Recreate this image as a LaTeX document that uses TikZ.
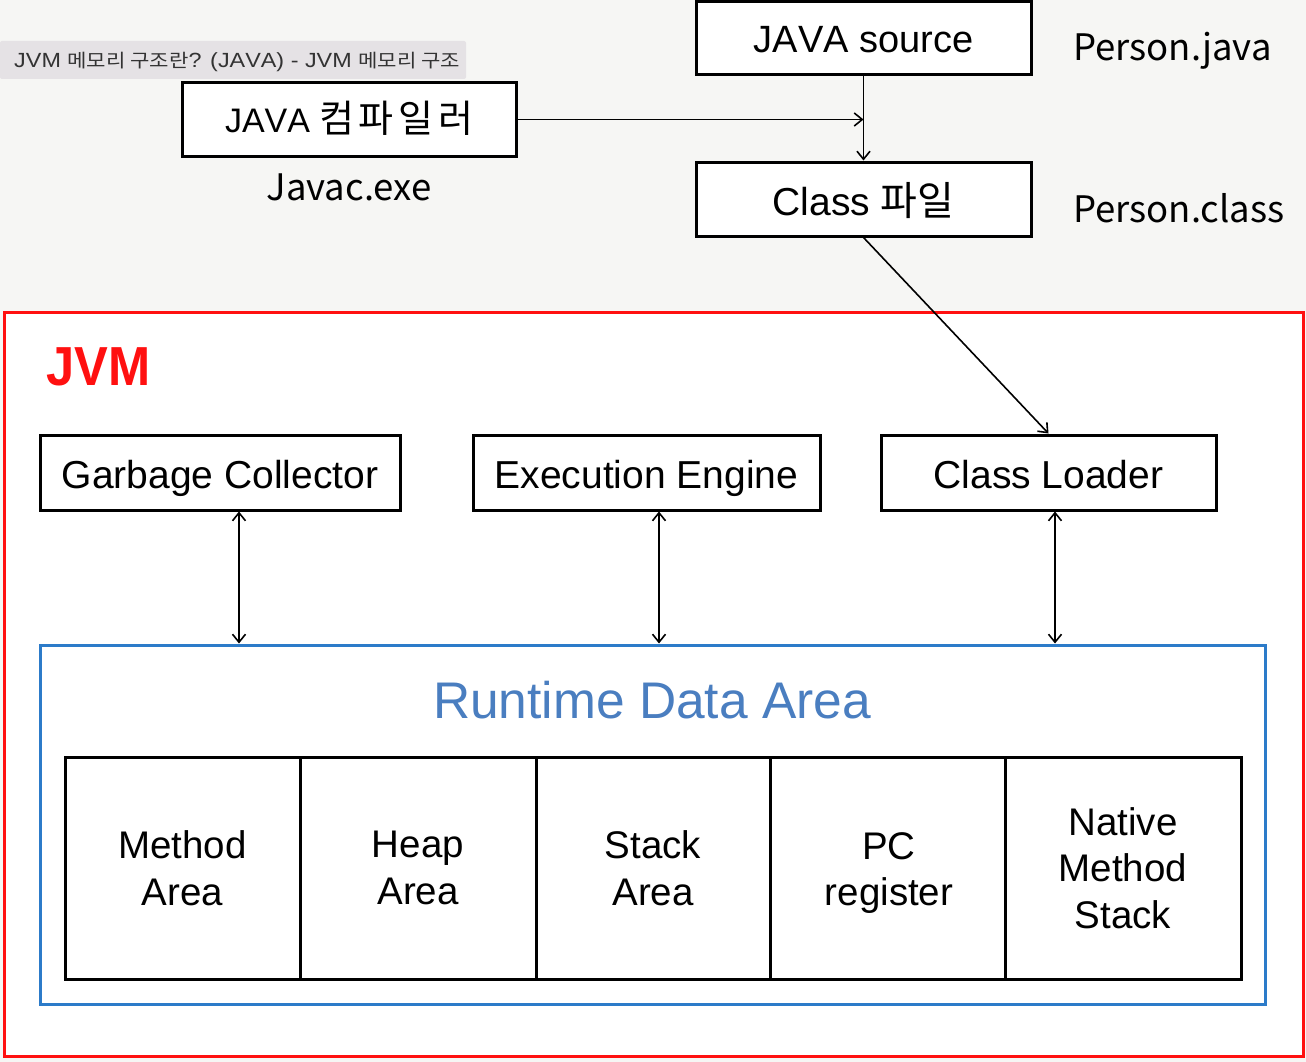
\documentclass[tikz,border=0pt]{standalone}
\usepackage{fontspec}
\setmainfont{Liberation Sans}[Kerning=Off]
\newfontfamily\kr{Noto Sans CJK KR}
\usetikzlibrary{arrows.meta}
\definecolor{bgc}{HTML}{F6F6F4}
\definecolor{tipbg}{HTML}{E5E2E5}
\definecolor{tiptext}{HTML}{333333}
\definecolor{jvmred}{HTML}{FF1010}
\definecolor{rdablue}{HTML}{2C7BC9}
\definecolor{rdatext}{HTML}{4A7EC0}
\newcommand{\hg}[2]{{\kr\fontsize{#1}{#1}\selectfont #2}}
\newcommand{\hgs}[3]{{\kr\addfontfeatures{LetterSpace=#2}\fontsize{#1}{#1}\selectfont #3}}
\tikzset{
  box/.style={draw, line width=3pt, rectangle, inner sep=0pt, fill=white},
  topbox/.style={box, minimum width=335, minimum height=73, text depth=0pt},
  toplabel/.style={inner sep=0pt, font=\kr\fontsize{36.5}{40}\selectfont},
  jvmbox/.style={box, minimum height=75, text height=31pt, text depth=0pt, font=\fontsize{39}{46}\selectfont},
  cell/.style={box, minimum height=222, align=center, font=\fontsize{38.5}{46.5}\selectfont},
  arw/.style={line width=1.6pt, -{Straight Barb[length=8pt,width=13pt,line width=1.6pt]}},
  darw/.style={line width=1.6pt, {Straight Barb[length=8pt,width=13pt,line width=1.6pt]}-{Straight Barb[length=8pt,width=13pt,line width=1.6pt]}}
}
\begin{document}
\begin{tikzpicture}[x=1pt,y=-1pt]
\useasboundingbox (0,0) rectangle (1306,1062);
\fill[bgc] (0,0) rectangle (1306,1062);

% tooltip
\node[fill=tipbg, rounded corners=2pt, minimum width=466, minimum height=38, inner sep=0pt] (tip) at (233,60) {};
\node[anchor=base west, inner sep=0pt, text=tiptext, font=\fontsize{20.5}{24}\selectfont, xscale=1.14] (tiptxt) at (14,67.5)
  {JVM \hg{18.5}{메모리 구조란}? (JAVA) - JVM \hg{18.5}{메모리 구조}};

% top boxes
\node[topbox, text height=29pt, font=\fontsize{38}{40}\selectfont] (src) at (863.5,38.5) {JAVA source};
\node[topbox, minimum width=334, text height=27pt, font=\fontsize{34}{40}\selectfont] (comp) at (349,119.5) {JAVA \hgs{38}{12}{컴파일러}};
\node[topbox, minimum height=74, text height=32pt, font=\fontsize{39}{40}\selectfont] (cls) at (863.5,199) {Class \hg{40}{파일}};
\node[toplabel, anchor=base west] (pjava) at (1073,61) {Person.java};
\node[toplabel, anchor=base west] (pclass) at (1073,222) {Person.class};
\node[toplabel, anchor=base] (javac) at (349,200) {Javac.exe};

% JVM frame
\node[draw=jvmred, line width=3pt, fill=white, minimum width=1299, minimum height=744, inner sep=0pt] (jvm) at (653.5,684) {};
\node[anchor=west, inner sep=0pt, text=jvmred, font=\bfseries\fontsize{55}{60}\selectfont, xscale=0.92] (jvmlbl) at (46,367) {JVM};

% JVM components
\node[jvmbox, minimum width=360] (gc) at (220,472.5) {Garbage Collector};
\node[jvmbox, minimum width=347] (ee) at (646.5,472.5) {Execution Engine};
\node[jvmbox, minimum width=335] (cl) at (1048.5,472.5) {Class Loader};

% Runtime data area
\node[draw=rdablue, line width=3pt, fill=white, minimum width=1225, minimum height=359, inner sep=0pt] (rda) at (652.5,824.5) {};
\node[inner sep=0pt, text=rdatext, font=\fontsize{51.5}{60}\selectfont] (rdalbl) at (652,700) {Runtime Data Area};

\node[cell, minimum width=235] (c1) at (182.5,868) {Method\\Area};
\node[cell, minimum width=236] (c2) at (418,868) {Heap\\Area};
\node[cell, minimum width=234] (c3) at (653,868) {Stack\\Area};
\node[cell, minimum width=235] (c4) at (887.5,868) {};
\node[inner sep=0pt, align=center, font=\fontsize{38.5}{46.5}\selectfont] (c4t) at (889,873) {PC\\register};
\node[cell, minimum width=236] (c5) at (1123,868) {Native\\Method\\Stack};

% connectors
\draw[arw] (comp.east) -- (comp.east -| src.south);
\draw[arw] (src.south) -- (cls.north);
\draw[arw] (cls.south) -- (cl.north);
\draw[darw] ([xshift=19pt]gc.south) -- ([xshift=19pt]gc.south |- rda.north);
\draw[darw] ([xshift=12.5pt]ee.south) -- ([xshift=12.5pt]ee.south |- rda.north);
\draw[darw] ([xshift=6.5pt]cl.south) -- ([xshift=6.5pt]cl.south |- rda.north);
\end{tikzpicture}
\end{document}
